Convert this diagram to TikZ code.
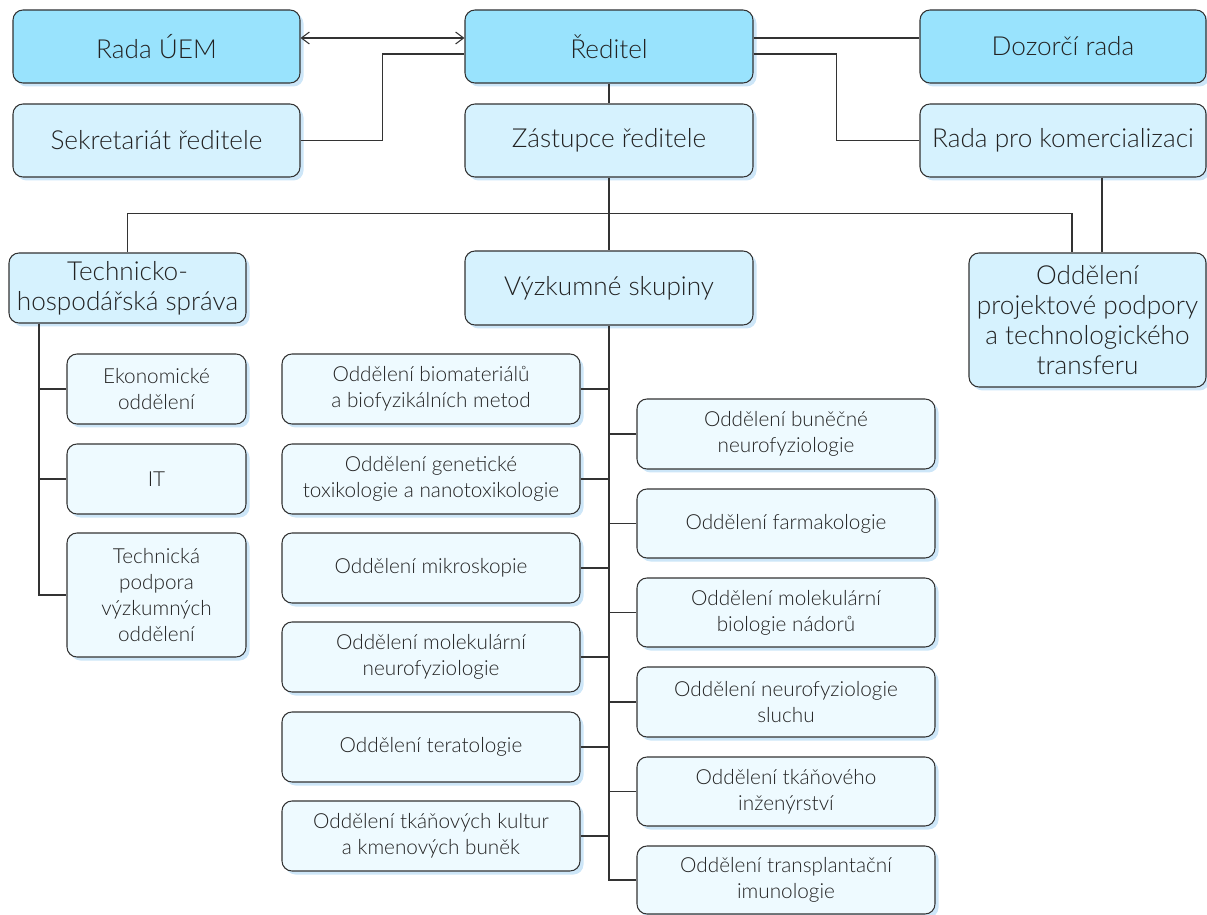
\documentclass[tikz,border=0pt]{standalone}
\usepackage{fontspec}
\setmainfont{Lato}[UprightFont=* Light]
\usetikzlibrary{arrows.meta,shadows}
\definecolor{topfill}{RGB}{153,227,253}
\definecolor{midfill}{RGB}{214,242,254}
\definecolor{lowfill}{RGB}{238,250,255}
\definecolor{shadowc}{RGB}{205,230,248}
\definecolor{edgec}{RGB}{51,51,51}
\definecolor{textc}{RGB}{34,34,34}
\newcommand\orgbox[7]{\node[#1, minimum width={(#4-#2)*0.02cm}, minimum height={(#5-#3)*0.02cm}] (#6) at ({(#2+#4)/2},{(#3+#5)/2}) {#7};}
\tikzset{
  basebox/.style={draw=edgec, line width=0.6pt, rounded corners=0.2cm, inner sep=0pt, align=center, text=textc,
    drop shadow={shadow xshift=0.07cm, shadow yshift=-0.07cm, fill=shadowc, opacity=1}},
  bigtext/.style={font=\fontsize{14.9}{17}\selectfont},
  smalltext/.style={font=\fontsize{11.8}{14.8}\selectfont},
  topbox/.style={basebox, fill=topfill, bigtext},
  midbox/.style={basebox, fill=midfill, bigtext},
  lowbox/.style={basebox, fill=lowfill, smalltext},
  conn/.style={draw=edgec, line width=0.6pt},
}
\begin{document}
\begin{tikzpicture}[x=0.02cm,y=-0.02cm]
\useasboundingbox (0,0) rectangle (1207,915);
% top level
\orgbox{topbox}{13}{10}{300}{83}{rada}{Rada ÚEM}
\orgbox{topbox}{465}{10}{753}{83}{reditel}{Ředitel}
\orgbox{topbox}{920}{10}{1206}{83}{dozor}{Dozorčí rada}
% second level
\orgbox{midbox}{13}{104}{300}{177}{sekr}{Sekretariát ředitele}
\orgbox{midbox}{465}{104}{753}{177}{zast}{Zástupce ředitele}
\orgbox{midbox}{920}{104}{1206}{177}{radakom}{Rada pro komercializaci}
% third level
\orgbox{midbox}{9}{253}{246}{323}{ths}{Technicko-\\hospodářská správa}
\orgbox{midbox}{465}{251}{753}{325}{vyzk}{Výzkumné skupiny}
\orgbox{midbox}{969}{253}{1206}{387}{opp}{Oddělení\\projektové podpory\\a technologického\\transferu}
% THS children
\orgbox{lowbox}{67}{354}{246}{424}{ekon}{Ekonomické\\oddělení}
\orgbox{lowbox}{67}{444}{246}{514}{it}{IT}
\orgbox{lowbox}{67}{533}{246}{657}{tech}{Technická\\podpora\\výzkumných\\oddělení}
% research groups, left column
\orgbox{lowbox}{282}{354}{580}{424}{l1}{Oddělení biomateriálů\\a biofyzikálních metod}
\orgbox{lowbox}{282}{444}{580}{514}{l2}{Oddělení genetické\\toxikologie a nanotoxikologie}
\orgbox{lowbox}{282}{533}{580}{603}{l3}{Oddělení mikroskopie}
\orgbox{lowbox}{282}{622}{580}{692}{l4}{Oddělení molekulární\\neurofyziologie}
\orgbox{lowbox}{282}{712}{580}{782}{l5}{Oddělení teratologie}
\orgbox{lowbox}{282}{801}{580}{871}{l6}{Oddělení tkáňových kultur\\a kmenových buněk}
% research groups, right column
\orgbox{lowbox}{637}{399}{935}{469}{r1}{Oddělení buněčné\\neurofyziologie}
\orgbox{lowbox}{637}{489}{935}{558}{r2}{Oddělení farmakologie}
\orgbox{lowbox}{637}{578}{935}{647}{r3}{Oddělení molekulární\\biologie nádorů}
\orgbox{lowbox}{637}{667}{935}{737}{r4}{Oddělení neurofyziologie\\sluchu}
\orgbox{lowbox}{637}{757}{935}{826}{r5}{Oddělení tkáňového\\inženýrství}
\orgbox{lowbox}{637}{846}{935}{914}{r6}{Oddělení transplantační\\imunologie}
% connectors
\draw[conn, {Straight Barb[length=1.6mm,width=2.4mm]}-{Straight Barb[length=1.6mm,width=2.4mm]}]
  ([yshift=0.17cm]rada.east) -- ([yshift=0.17cm]reditel.west);
\draw[conn] (sekr.east) -- ++(82,0) |- ([yshift=-0.15cm]reditel.west);
\draw[conn] ([yshift=0.17cm]reditel.east) -- ([yshift=0.17cm]dozor.west);
\draw[conn] ([yshift=-0.15cm]reditel.east) -- ++(83,0) |- (radakom.west);
\draw[conn] (reditel.south) -- (zast.north);
\draw[conn] (zast.south) -- (vyzk.north);
\draw[conn] (ths.north) -- ++(0,-39) -| ([xshift=-0.31cm]opp.north);
\draw[conn] ([xshift=0.78cm]radakom.south) -- ([xshift=0.78cm]radakom.south |- opp.north);
\coordinate (thsb) at ([xshift=-1.77cm]ths.south);
\foreach \n in {ekon,it,tech} \draw[conn] (thsb) |- (\n.west);
\draw[conn] (vyzk.south) |- (r6.west);
\foreach \n in {l1,l2,l3,l4,l5,l6} \draw[conn] (\n.east) -- (\n.east -| vyzk.south);
\foreach \n in {r1,r2,r3,r4,r5} \draw[conn] (\n.west) -- (\n.west -| vyzk.south);
\end{tikzpicture}
\end{document}
